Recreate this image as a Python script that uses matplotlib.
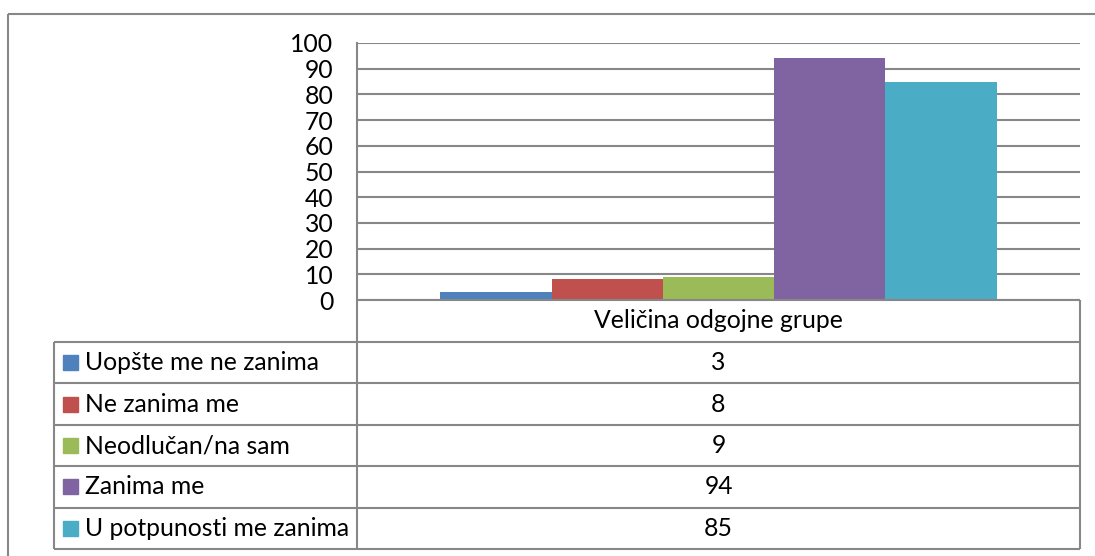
import matplotlib
matplotlib.use("Agg")
import matplotlib.pyplot as plt
from matplotlib.patches import Rectangle

# data
category = "Veličina odgojne grupe"
series_names = ["Uopšte me ne zanima", "Ne zanima me", "Neodlučan/na sam",
                "Zanima me", "U potpunosti me zanima"]
values = [3, 8, 9, 94, 85]
colors = ["#4F81BD", "#C0504D", "#9BBB59", "#8064A2", "#4BACC6"]
y_ticks = [0, 10, 20, 30, 40, 50, 60, 70, 80, 90, 100]

plt.rcParams['font.family'] = ['Lato', 'DejaVu Sans']
W, H = 1095, 556
fig = plt.figure(figsize=(W / 100, H / 100), dpi=100)
grey = "#878787"
fs = 17.8

# pixel layout
pl, pr, pt, pb = 357, 1080, 43, 300
ax = fig.add_axes([pl / W, 1 - pb / H, (pr - pl) / W, (pb - pt) / H])

n = len(values)
bw = 1 / (n + 1.5)
for i, (v, c) in enumerate(zip(values, colors)):
    ax.bar((i - (n - 1) / 2) * bw, v, width=bw, color=c, zorder=3)

ax.set_xlim(-0.5, 0.5)
ax.set_ylim(0, 100)
ax.set_yticks(y_ticks)
ax.set_yticklabels([str(t) for t in y_ticks], fontsize=fs)
ax.tick_params(axis='y', length=0, pad=17)
ax.set_xticks([])
ax.grid(axis='y', color=grey, linewidth=1.5, zorder=0)
for s in ['top', 'right', 'bottom']:
    ax.spines[s].set_visible(False)
ax.spines['left'].set_color(grey)
ax.spines['left'].set_linewidth(1.5)

# overlay in pixel coords for table and border
ov2 = fig.add_axes([0, 0, 1, 1])
ov2.set_xlim(0, W)
ov2.set_ylim(H, 0)
ov2.axis('off')
ov2.patch.set_alpha(0)

lk = dict(color=grey, linewidth=1.5, solid_capstyle='butt')
# outer border
ov2.plot([8, 8], [14, H], **lk)
ov2.plot([8, W], [14, 14], **lk)

# table
tl, tr = 54, pr
row_top = 342
row_h = 41.4
rows_y = [row_top + k * row_h for k in range(n + 1)]
ov2.plot([pl, pl], [pb, rows_y[-1]], **lk)
ov2.plot([tr, tr], [pb, rows_y[-1]], **lk)
ov2.plot([pl, tr], [pb, pb], **lk)
ov2.plot([tl, tl], [row_top, rows_y[-1]], **lk)
for yy in rows_y:
    ov2.plot([tl, tr], [yy, yy], **lk)

xc = (pl + tr) / 2
ov2.text(xc, (pb + row_top) / 2, category, ha='center', va='center', fontsize=fs)
for k, (name, v, c) in enumerate(zip(series_names, values, colors)):
    yc = rows_y[k] + row_h / 2
    ov2.add_patch(Rectangle((63, yc - 7.5), 15, 15, color=c))
    ov2.text(85, yc, name, ha='left', va='center', fontsize=fs)
    ov2.text(xc, yc, str(v), ha='center', va='center', fontsize=fs)

fig.savefig("out.png", dpi=100)
